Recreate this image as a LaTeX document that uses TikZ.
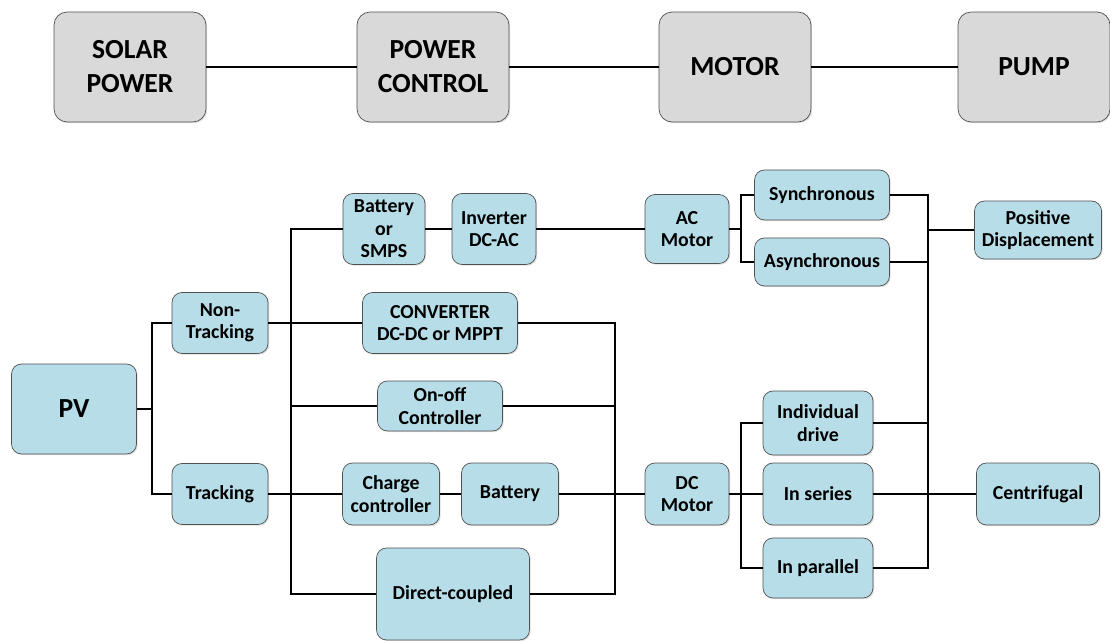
\documentclass[tikz,border=0pt]{standalone}
\usepackage{fontspec}
\setmainfont{Carlito}
\usetikzlibrary{shadows}

\definecolor{boxblue}{HTML}{B7DEE8}
\definecolor{boxgray}{HTML}{D9D9D9}
\definecolor{edgegray}{HTML}{505050}

\begin{document}
\begin{tikzpicture}[
        x=0.02cm, y=-0.02cm,
        every node/.style={font=\bfseries},
        stage/.style={rectangle, draw=edgegray, fill=boxgray, rounded corners=0.26cm, minimum width=3.04cm, minimum height=2.2cm, align=center, font=\fontsize{15.7}{19.4}\selectfont\bfseries, drop shadow={opacity=0.25, shadow xshift=0.7pt, shadow yshift=-0.7pt}},
        part/.style={rectangle, draw=edgegray, fill=boxblue, rounded corners=0.2cm, inner sep=0pt, align=center, font=\fontsize{11.3}{12.8}\selectfont\bfseries, drop shadow={opacity=0.25, shadow xshift=0.7pt, shadow yshift=-0.7pt}},
        sz/.style 2 args={minimum width=#1cm, minimum height=#2cm},
        link/.style={draw=black, line width=0.8pt}
    ]
        \useasboundingbox (0,0) rectangle (1110,641);

        % Top row
        \node[stage] (solar) at (130,67) {SOLAR\\POWER};
        \node[stage] (pctrl) at (433,67) {POWER\\CONTROL};
        \node[stage] (motor) at (735,67) {MOTOR};
        \node[stage] (pump) at (1034,67) {PUMP};

        % Source side
        \node[part, sz={2.5}{1.8}, font=\fontsize{15.7}{18}\selectfont\bfseries] (pv) at (74,409) {PV};
        \node[part, sz={1.92}{1.22}] (nontrack) at (220,323) {Non-\\Tracking};
        \node[part, sz={1.92}{1.22}] (track) at (220,494) {Tracking};

        % Power control
        \node[part, sz={1.64}{1.42}] (bsmps) at (384,229) {Battery\\or\\SMPS};
        \node[part, sz={1.68}{1.42}] (inverter) at (494,229) {Inverter\\DC-AC};
        \node[part, sz={3.1}{1.22}] (conv) at (440,323) {CONVERTER\\DC-DC or MPPT};
        \node[part, sz={2.5}{1.0}] (onoff) at (440,406) {On-off\\Controller};
        \node[part, sz={1.94}{1.24}] (charge) at (391,494) {Charge\\controller};
        \node[part, sz={1.94}{1.24}] (battery) at (510,494) {Battery};
        \node[part, sz={3.06}{1.84}] (direct) at (453,594) {Direct-coupled};

        % Motors
        \node[part, sz={1.68}{1.38}] (acmotor) at (687,229) {AC\\Motor};
        \node[part, sz={1.68}{1.24}] (dcmotor) at (687,494) {DC\\Motor};
        \node[part, sz={2.7}{1.0}] (sync) at (822,195) {Synchronous};
        \node[part, sz={2.7}{0.96}] (async) at (822,262) {Asynchronous};
        \node[part, sz={2.2}{1.28}] (indiv) at (818,423) {Individual\\drive};
        \node[part, sz={2.2}{1.24}] (series) at (818,494) {In series};
        \node[part, sz={2.2}{1.2}] (parallel) at (818,568) {In parallel};

        % Pumps
        \node[part, sz={2.54}{1.16}] (posdisp) at (1038,230) {Positive\\Displacement};
        \node[part, sz={2.46}{1.24}] (centrif) at (1038,494) {Centrifugal};

        % Bus points
        \coordinate (busA) at (291,594);
        \coordinate (busB) at (615,594);
        \coordinate (busC) at (741,229);
        \coordinate (busD) at (741,494);
        \coordinate (busE) at (928,230);

        % Top row lines
        \draw[link] (solar) -- (pctrl);
        \draw[link] (pctrl) -- (motor);
        \draw[link] (motor) -- (pump);

        % PV branches
        \draw[link] (nontrack.west) -| ([xshift=15*0.02cm]pv.east) |- (track.west);
        \draw[link] (pv.east) -- ++(15,0);

        % Control stage
        \draw[link] (nontrack.east) -- (conv.west);
        \draw[link] (track.east) -- (charge.west);
        \draw[link] (bsmps.west) -| (busA) -- (direct.west);
        \draw[link] (busA |- onoff.west) -- (onoff.west);
        \draw[link] (bsmps) -- (inverter);
        \draw[link] (inverter) -- (acmotor);
        \draw[link] (charge) -- (battery);
        \draw[link] (battery) -- (dcmotor);
        \draw[link] (conv.east) -| (busB) -- (direct.east);
        \draw[link] (onoff.east) -- (busB |- onoff.east);

        % Motor types
        \draw[link] (acmotor.east) -- (busC);
        \draw[link] (sync.west) -| (busC) |- (async.west);
        \draw[link] (indiv.west) -| (busD) |- (parallel.west);
        \draw[link] (dcmotor) -- (series);

        % Pump types
        \draw[link] (sync.east) -| (busE) |- (parallel.east);
        \draw[link] (async.east) -- (busE |- async.east);
        \draw[link] (indiv.east) -- (busE |- indiv.east);
        \draw[link] (series) -- (centrif);
        \draw[link] (busE) -- (posdisp);

    \end{tikzpicture}
\end{document}
